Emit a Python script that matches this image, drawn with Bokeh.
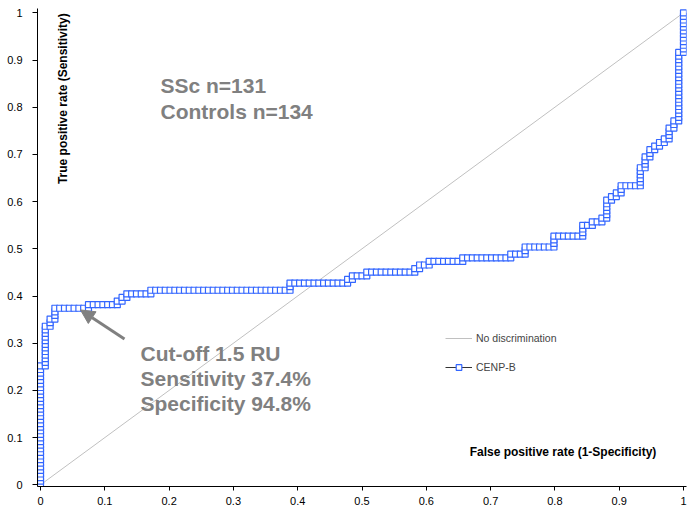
from math import pi
from bokeh.plotting import figure
from bokeh.models import (Range1d, FixedTicker, Label, Arrow, NormalHead, Legend,
                          LegendItem, NumeralTickFormatter, ColumnDataSource)
from bokeh.embed import file_html
from bokeh.resources import INLINE

# ---------------- data ----------------
n_controls = 134   # false positives are counted out of the controls
n_ssc = 131        # true positives are counted out of the SSc patients

# corners of the CENP-B ROC staircase (counts of controls / SSc above the cut-off)
vertex_fp = [0, 0, 1, 1, 2, 2, 3, 3, 10, 10, 16, 16, 17, 17, 18, 18, 23, 23, 52, 52,
             64, 64, 65, 65, 68, 68, 78, 78, 79, 79, 81, 81, 88, 88, 98, 98, 101, 101,
             107, 107, 113, 113, 115, 115, 117, 117, 118, 118, 119, 119, 120, 120,
             121, 121, 125, 125, 126, 126, 127, 127, 128, 128, 129, 129, 130, 130,
             131, 131, 132, 132, 133, 133, 134, 134]
vertex_tp = [0, 33, 33, 44, 44, 46, 46, 49, 49, 50, 50, 51, 51, 52, 52, 53, 53, 54, 54, 56,
             56, 57, 57, 58, 58, 59, 59, 60, 60, 61, 61, 62, 62, 63, 63, 64, 64, 66,
             66, 69, 69, 72, 72, 73, 73, 74, 74, 79, 79, 80, 80, 81,
             81, 83, 83, 88, 88, 91, 91, 93, 93, 94, 94, 95, 95, 96,
             96, 99, 99, 101, 101, 120, 120, 131]

diag_x = [0, 1]
diag_y = [0, 1]

tick_values = [0, 0.1, 0.2, 0.3, 0.4, 0.5, 0.6, 0.7, 0.8, 0.9, 1]
tick_labels = ["0", "0.1", "0.2", "0.3", "0.4", "0.5", "0.6", "0.7", "0.8", "0.9", "1"]

legend_labels = ["No discrimination", "CENP-B"]
info_lines = ["SSc n=131", "Controls n=134"]
cutoff_lines = ["Cut-off 1.5 RU", "Sensitivity 37.4%", "Specificity 94.8%"]

# one point per subject step along the staircase
pt_fp = [vertex_fp[0]]
pt_tp = [vertex_tp[0]]
for i in range(1, len(vertex_fp)):
    f0, t0, f1, t1 = vertex_fp[i - 1], vertex_tp[i - 1], vertex_fp[i], vertex_tp[i]
    n = max(abs(f1 - f0), abs(t1 - t0))
    for k in range(1, n + 1):
        pt_fp.append(f0 + (f1 - f0) * k // n)
        pt_tp.append(t0 + (t1 - t0) * k // n)

src = ColumnDataSource(dict(x=[f / n_controls for f in pt_fp],
                            y=[t / n_ssc for t in pt_tp]))

# ---------------- figure ----------------
FONT = "Liberation Sans"
GRAY = "#808080"

p = figure(width=694, height=509, output_backend="svg", toolbar_location=None,
           x_range=Range1d(-3 / 643, 1 + 3 / 643), y_range=Range1d(-1.7 / 472, 1 + 4.3 / 472),
           min_border_left=37, min_border_right=8, min_border_top=8, min_border_bottom=23)
p.outline_line_color = None
p.grid.visible = False
p.background_fill_color = "white"

for ax in (p.xaxis[0], p.yaxis[0]):
    ax.ticker = FixedTicker(ticks=tick_values)
    ax.formatter = NumeralTickFormatter(format="0.[0]")
    ax.major_label_overrides = {str(v): s for v, s in zip(tick_values, tick_labels)}
    ax.axis_line_color = "black"
    ax.axis_line_width = 1
    ax.major_tick_line_color = "black"
    ax.major_tick_in = 0
    ax.minor_tick_line_color = None
    ax.major_label_text_font = FONT
    ax.major_label_text_font_size = "11px"
    ax.major_label_text_color = "black"
p.xaxis.major_tick_out = 4
p.xaxis.major_label_standoff = 6
p.yaxis.major_tick_out = 5
p.yaxis.major_label_standoff = 10

diag_r = p.line(diag_x, diag_y, line_color="#C0C0C0", line_width=1)
roc_line = p.line("x", "y", source=src, line_color="#333333", line_width=1)
roc_pts = p.scatter("x", "y", source=src, marker="square", size=6,
                    line_color="#3366FF", line_width=1.2, fill_color="white")

legend = Legend(items=[LegendItem(label=legend_labels[0], renderers=[diag_r]),
                       LegendItem(label=legend_labels[1], renderers=[roc_line, roc_pts])],
                location=(408, 112), orientation="vertical",
                glyph_width=27, glyph_height=14, label_height=14, spacing=15,
                padding=0, margin=0, label_standoff=4,
                label_text_font=FONT, label_text_font_size="10.5px",
                border_line_color=None, background_fill_alpha=0)
p.add_layout(legend)

# axis titles drawn inside the plot area
p.add_layout(Label(x=0.035, y=0.818, text="True positive rate (Sensitivity)", angle=pi / 2,
                   text_align="center", text_baseline="middle", text_font=FONT,
                   text_font_style="bold", text_font_size="12px", text_color="black"))
p.add_layout(Label(x=0.8126, y=0.069, text="False positive rate (1-Specificity)",
                   text_align="center", text_baseline="middle", text_font=FONT,
                   text_font_style="bold", text_font_size="12px", text_color="black"))

for txt, yy in zip(info_lines, [0.8454, 0.790]):
    p.add_layout(Label(x=0.1866, y=yy, text=txt, text_baseline="alphabetic",
                       text_font=FONT, text_font_style="bold", text_font_size="21px",
                       text_color=GRAY))
for txt, yy in zip(cutoff_lines, [0.278, 0.225, 0.172]):
    p.add_layout(Label(x=0.1555, y=yy, text=txt, text_baseline="alphabetic",
                       text_font=FONT, text_font_style="bold", text_font_size="21px",
                       text_color=GRAY))

p.add_layout(Arrow(end=NormalHead(size=14, fill_color=GRAY, line_color=GRAY),
                   x_start=0.1306, y_start=0.309, x_end=0.0622, y_end=0.3705,
                   line_color=GRAY, line_width=3))

open("out.html", "w").write(file_html(p, INLINE))
